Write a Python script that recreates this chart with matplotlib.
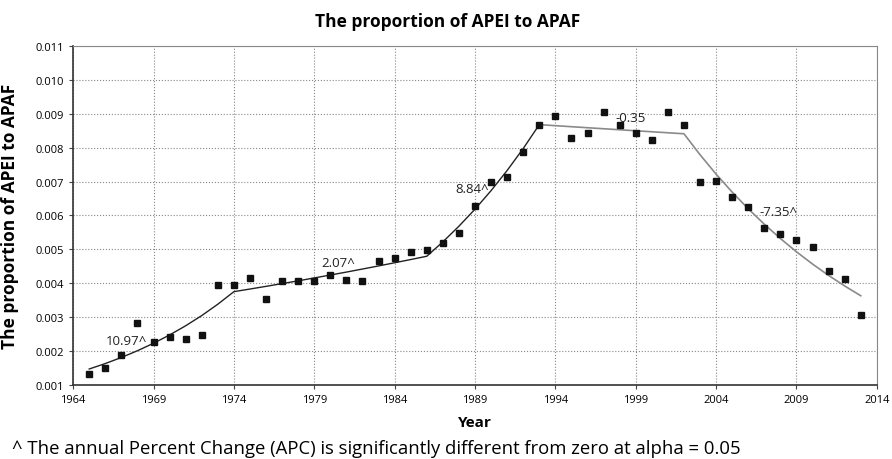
import matplotlib.pyplot as plt

plt.rcParams['font.family'] = ['Open Sans', 'DejaVu Sans']

years = list(range(1965, 2014))
observed = [0.00132, 0.00150, 0.00188, 0.00283, 0.00227, 0.00242, 0.00236, 0.00247,
            0.00395, 0.00395, 0.00416, 0.00354, 0.00407, 0.00407, 0.00407, 0.00424,
            0.00410, 0.00407, 0.00466, 0.00475, 0.00492, 0.00498, 0.00519, 0.00548,
            0.00628, 0.00699, 0.00714, 0.00787, 0.00867, 0.00894, 0.00829, 0.00843,
            0.00905, 0.00867, 0.00843, 0.00823, 0.00905, 0.00867, 0.00699, 0.00702,
            0.00655, 0.00625, 0.00563, 0.00545, 0.00528, 0.00507, 0.00436, 0.00413,
            0.00306]

# fitted joinpoint values per year
fit_years_a = list(range(1965, 1994))
fit_a = [0.001470, 0.001631, 0.001810, 0.002009, 0.002229, 0.002474, 0.002745,
         0.003046, 0.003381, 0.003751, 0.003829, 0.003908, 0.003989, 0.004071,
         0.004156, 0.004242, 0.004329, 0.004419, 0.004510, 0.004604, 0.004699,
         0.004796, 0.005220, 0.005682, 0.006184, 0.006731, 0.007326, 0.007973,
         0.008678]
fit_years_b = list(range(1993, 2014))
fit_b = [0.008678, 0.008648, 0.008617, 0.008587, 0.008557, 0.008527, 0.008497,
         0.008468, 0.008438, 0.008409, 0.007791, 0.007218, 0.006688, 0.006196,
         0.005741, 0.005319, 0.004928, 0.004566, 0.004230, 0.003919, 0.003631]

apc_labels = ['10.97^', '2.07^', '8.84^', '-0.35', '-7.35^']
apc_pos = [(1967.3, 0.00230), (1980.5, 0.00460), (1988.8, 0.00678), (1998.7, 0.00888), (2007.9, 0.00613)]

fig = plt.figure(figsize=(8.92, 4.6), dpi=100)
ax = fig.add_axes([0.082, 0.161, 0.901, 0.737])

ax.plot(fit_years_a, fit_a, color='#222222', lw=1.0)
ax.plot(fit_years_b, fit_b, color='#8a8a8a', lw=1.2)
ax.plot(years, observed, 's', color='#111111', ms=4.5)

for txt, (x, y) in zip(apc_labels, apc_pos):
    ax.text(x, y, txt, fontsize=9.5, ha='center', va='center', color='#222222')

ax.set_xlim(1964, 2014)
ax.set_ylim(0.001, 0.011)
ax.set_xticks(range(1964, 2015, 5))
ax.set_yticks([0.001 * i for i in range(1, 12)])
ax.set_yticklabels(['%.3f' % (0.001 * i) for i in range(1, 12)])
ax.tick_params(labelsize=8, length=3, color='#444444')
ax.grid(True, linestyle=':', color='#888888', lw=0.8)
for s in ['top', 'right']:
    ax.spines[s].set_color('#888888')
for s in ['left', 'bottom']:
    ax.spines[s].set_color('#333333')
    ax.spines[s].set_linewidth(1.2)

fig.suptitle('The proportion of APEI to APAF', x=0.502, y=0.972, fontsize=12.5, fontweight='bold', va='top')
ax.set_xlabel('Year', fontsize=11, fontweight='bold', labelpad=7)
ax.set_ylabel('The proportion of APEI to APAF', fontsize=12.5, fontweight='bold', labelpad=12)

fig.text(0.013, 0.004, '^ The annual Percent Change (APC) is significantly different from zero at alpha = 0.05',
         fontsize=13.3, ha='left', va='bottom')

fig.savefig('out.png', dpi=100)
